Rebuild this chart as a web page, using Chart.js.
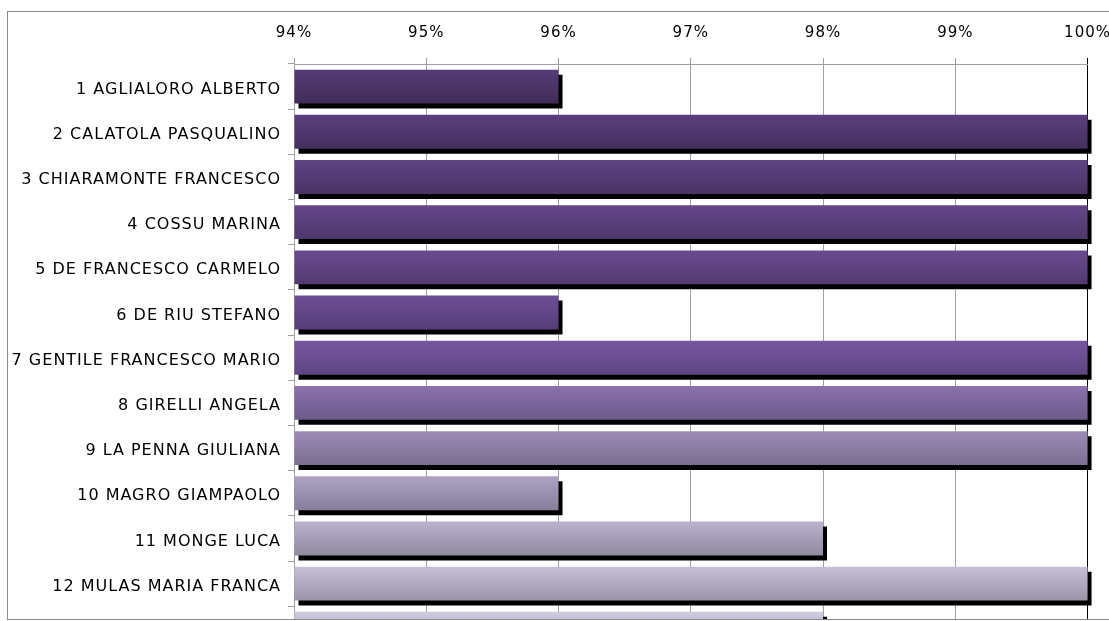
<!DOCTYPE html>
<html>
<head>
<meta charset="utf-8">
<script src="https://cdn.jsdelivr.net/npm/chart.js@4/dist/chart.umd.min.js"></script>
<style>
  html, body { margin: 0; padding: 0; background: #fff; overflow: hidden; width: 1109px; height: 621px; }
  #frame { position: absolute; left: 7px; top: 11px; width: 1200px; height: 607px; border: 1px solid #8a8a8a; overflow: hidden; background: #fff; }
  #c { position: absolute; left: 0; top: 0; }
</style>
</head>
<body>
<div id="frame"><canvas id="c" width="1117" height="656"></canvas></div>
<script>
const categories = [
  '1 AGLIALORO ALBERTO',
  '2 CALATOLA PASQUALINO',
  '3 CHIARAMONTE FRANCESCO',
  '4 COSSU MARINA',
  '5 DE FRANCESCO CARMELO',
  '6 DE RIU STEFANO',
  '7 GENTILE FRANCESCO MARIO',
  '8 GIRELLI ANGELA',
  '9 LA PENNA GIULIANA',
  '10 MAGRO GIAMPAOLO',
  '11 MONGE LUCA',
  '12 MULAS MARIA FRANCA',
  '13'
];
const values = [96, 100, 100, 100, 100, 96, 100, 100, 100, 96, 98, 100, 98];
const xTicks = [94, 95, 96, 97, 98, 99, 100];
const axisMin = 94;
const axisMax = 100;

const topColors = ['#563c77','#5b3f7e','#604384','#65478a','#6a4a91','#6e4d97','#7856a2','#8b72ae','#9d8bb7','#ada2c3','#bbb2ce','#c7c0d8','#d1cbe0'];
const bottomColors = ['#412c58','#45305f','#4a3365','#4e376b','#533a71','#573e77','#5f4581','#6d5a8a','#7c6f92','#887e9b','#9089a0','#9a94a9','#a39eb3'];
const BAR_FRAC = 0.75;

function barGradient(ctx) {
  const chart = ctx.chart;
  const i = ctx.dataIndex;
  if (!chart.chartArea || i === undefined) return topColors[i || 0];
  const ys = chart.scales.y;
  const yc = ys.getPixelForValue(i);
  const h = (ys.bottom - ys.top) / categories.length * BAR_FRAC;
  const g = chart.ctx.createLinearGradient(0, yc - h / 2, 0, yc + h / 2);
  g.addColorStop(0, topColors[i]);
  g.addColorStop(1, bottomColors[i]);
  return g;
}

const shadowPlugin = {
  id: 'barShadow',
  beforeDraw(chart) {
    chart.ctx.letterSpacing = '1px';
  },
  beforeDatasetsDraw(chart) {
    const c = chart.ctx;
    c.save();
    c.shadowColor = '#000';
    c.shadowOffsetX = 4;
    c.shadowOffsetY = 5;
    c.shadowBlur = 0;
  },
  afterDatasetsDraw(chart) {
    chart.ctx.restore();
  }
};

new Chart(document.getElementById('c'), {
  type: 'bar',
  data: {
    labels: categories,
    datasets: [{
      data: values,
      base: axisMin,
      backgroundColor: barGradient,
      borderWidth: 0,
      categoryPercentage: 1,
      barPercentage: BAR_FRAC,
      clip: false
    }]
  },
  options: {
    indexAxis: 'y',
    responsive: false,
    animation: false,
    layout: { padding: { left: 0, top: 0, right: 6, bottom: 5 } },
    plugins: { legend: { display: false }, tooltip: { enabled: false } },
    scales: {
      x: {
        position: 'top',
        min: axisMin,
        max: axisMax,
        beginAtZero: false,
        afterBuildTicks(scale) { scale.ticks = xTicks.map(v => ({ value: v })); },
        afterFit(scale) { scale.height = 52; },
        ticks: {
          callback: v => v + '%',
          color: '#000',
          font: { family: 'DejaVu Sans', size: 15 },
          padding: 16,
          maxRotation: 0
        },
        grid: {
          color: ctx => (ctx.tick && ctx.tick.value === 100) ? '#000' : '#a0a0a0',
          lineWidth: 1,
          tickLength: 6,
          drawTicks: true
        },
        border: { color: '#a0a0a0', width: 1 }
      },
      y: {
        afterFit(scale) { scale.width = 286; },
        ticks: {
          color: '#000',
          font: { family: 'DejaVu Sans', size: 16 },
          padding: 7,
          labelOffset: 3,
          autoSkip: false
        },
        grid: {
          offset: true,
          drawOnChartArea: false,
          drawTicks: true,
          tickLength: 6,
          color: '#a0a0a0'
        },
        border: { color: '#a0a0a0', width: 1 }
      }
    }
  },
  plugins: [shadowPlugin]
});
</script>
</body>
</html>
